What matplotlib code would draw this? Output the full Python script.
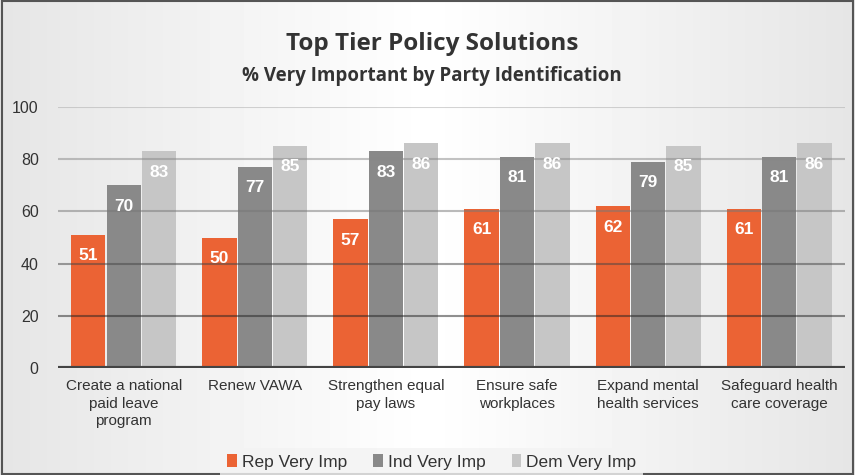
import numpy as np
import matplotlib
matplotlib.use("Agg")
import matplotlib.pyplot as plt
from matplotlib.patches import Rectangle

# Data
categories = ["Create a national\npaid leave\nprogram", "Renew VAWA", "Strengthen equal\npay laws",
              "Ensure safe\nworkplaces", "Expand mental\nhealth services", "Safeguard health\ncare coverage"]
series_names = ["Rep Very Imp", "Ind Very Imp", "Dem Very Imp"]
rep = [51, 50, 57, 61, 62, 61]
ind = [70, 77, 83, 81, 79, 81]
dem = [83, 85, 86, 86, 85, 86]
colors = ["#eb6334", "#898989", "#c6c6c6"]

plt.rcParams['font.family'] = ['Liberation Sans', 'DejaVu Sans']

fig = plt.figure(figsize=(8.55, 4.75), dpi=100)
fig.patch.set_facecolor("#efefef")

# soft background gradient
bg = fig.add_axes([0, 0, 1, 1], zorder=-10)
gx = np.linspace(0, 1, 200)
grad = 1 - 0.10 * np.abs(gx - 0.5) * 2
bg.imshow(np.tile(grad, (50, 1)), cmap="gray", vmin=0, vmax=1, aspect="auto", extent=[0, 1, 0, 1])
bg.set_axis_off()

# figure border
fig.patches.append(Rectangle((0.002, 0.003), 0.996, 0.994, transform=fig.transFigure,
                             fill=False, edgecolor="#555555", linewidth=1.5))

ax = fig.add_axes([0.068, 0.225, 0.92, 0.55])
ax.patch.set_alpha(0)

x = np.arange(len(categories))
w = 0.262
for i, (vals, c, name) in enumerate(zip([rep, ind, dem], colors, series_names)):
    pos = x + (i - 1) * (w + 0.008)
    ax.bar(pos, vals, w, color=c, label=name, zorder=2)
    for p, v in zip(pos, vals):
        ax.text(p, v - 8, str(v), ha="center", va="center", color="white",
                fontsize=12.5, fontweight="bold", zorder=4)

ax.set_xlim(-0.50, 5.50)
ax.set_ylim(0, 100)
ax.set_yticks([0, 20, 40, 60, 80, 100])
grid_cols = {20: "#222222", 40: "#444444", 60: "#777777", 80: "#888888", 100: "#aaaaaa"}
for yv, gc in grid_cols.items():
    ax.axhline(yv, color=gc, linewidth=1.5, alpha=0.5, zorder=3)
ax.axhline(0, color="#444444", linewidth=3, zorder=5)

ax.set_xticks(x)
ax.set_xticklabels(categories, fontsize=11, color="#333333", linespacing=1.3)
ax.tick_params(axis="x", length=0, pad=8)
ax.tick_params(axis="y", length=0, labelsize=11.5, colors="#333333", pad=14)
for s in ax.spines.values():
    s.set_visible(False)

fig.text(0.505, 0.907, "Top Tier Policy Solutions", ha="center", va="center",
         fontsize=17.5, fontweight="bold", color="#333333", family=["Open Sans", "DejaVu Sans"])
fig.text(0.505, 0.84, "% Very Important by Party Identification", ha="center", va="center",
         fontsize=13.5, fontweight="bold", color="#333333", family=["Open Sans", "DejaVu Sans"])

leg = fig.legend(loc="center", bbox_to_anchor=(0.505, 0.027), ncol=3, frameon=True,
                 fontsize=12.5, handlelength=0.55, handleheight=0.75, handletextpad=0.3,
                 columnspacing=1.5, borderpad=0.4, fancybox=False)
leg.get_frame().set_facecolor("#f3f3f3")
leg.get_frame().set_edgecolor("none")
for t in leg.get_texts():
    t.set_color("#333333")

fig.savefig("out.png", dpi=100, facecolor=fig.get_facecolor())
